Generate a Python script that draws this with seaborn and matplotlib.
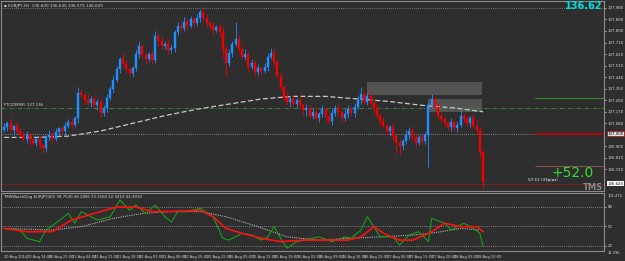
import matplotlib
matplotlib.use("Agg")
import matplotlib.pyplot as plt
import seaborn as sns
import pandas as pd

# EURJPY H1 candles (close prices, first open, wick sizes in pips)
first_open = 137.03
closes = [
    137.05, 137.08, 137.03, 137.06, 137.02, 137.00, 136.96, 136.99, 136.95, 136.93,
    136.96, 136.91, 136.89, 136.97, 136.99, 136.96, 137.01, 137.04, 137.02, 137.06,
    137.09, 137.07, 137.12, 137.32, 137.30, 137.26, 137.24, 137.27, 137.22, 137.25,
    137.16, 137.20, 137.28, 137.35, 137.42, 137.50, 137.58, 137.54, 137.50, 137.47,
    137.51, 137.62, 137.68, 137.61, 137.58, 137.62, 137.57, 137.76, 137.72, 137.68,
    137.70, 137.65, 137.67, 137.79, 137.84, 137.82, 137.87, 137.84, 137.89, 137.86,
    137.90, 137.95, 137.90, 137.86, 137.84, 137.81, 137.83, 137.79, 137.66, 137.55,
    137.63, 137.70, 137.74, 137.66, 137.60, 137.62, 137.52, 137.55, 137.48, 137.51,
    137.49, 137.52, 137.60, 137.63, 137.56, 137.45, 137.36, 137.28, 137.25, 137.27,
    137.23, 137.26, 137.22, 137.18, 137.20, 137.14, 137.17, 137.12, 137.15, 137.19,
    137.13, 137.10, 137.16, 137.20, 137.17, 137.12, 137.15, 137.19, 137.16, 137.21,
    137.26, 137.31, 137.25, 137.29, 137.24, 137.20, 137.14, 137.10, 137.06, 137.02,
    137.05, 136.98, 136.93, 136.90, 136.94, 136.99, 137.02, 136.97, 136.93, 136.97,
    136.94, 136.99, 137.22, 137.27, 137.21, 137.14, 137.11, 137.08, 137.05, 137.09,
    137.04, 137.07, 137.14, 137.11, 137.08, 137.12, 137.06, 137.03, 136.86, 136.62,
]
up_wick = [
    3, 2, 4, 1, 3, 2, 1, 3, 2, 2,
    2, 3, 1, 2, 4, 2, 3, 1, 2, 3,
    2, 3, 2, 4, 3, 2, 5, 2, 3, 2,
    3, 2, 3, 2, 4, 3, 2, 5, 3, 2,
    2, 3, 4, 2, 3, 2, 3, 4, 2, 3,
    2, 4, 3, 2, 3, 2, 4, 2, 3, 2,
    3, 2, 4, 3, 2, 3, 2, 3, 4, 2,
    3, 2, 13, 3, 2, 4, 2, 3, 2, 3,
    2, 3, 2, 4, 3, 2, 3, 2, 4, 2,
    3, 2, 4, 2, 3, 2, 3, 4, 2, 3,
    2, 4, 3, 2, 3, 2, 4, 3, 2, 3,
    3, 5, 2, 3, 4, 2, 3, 2, 3, 2,
    2, 3, 2, 3, 2, 4, 3, 2, 3, 2,
    3, 2, 3, 4, 2, 3, 2, 3, 2, 3,
    2, 3, 4, 2, 3, 2, 3, 5, 2, 1,
]
dn_wick = [
    2, 3, 2, 4, 2, 3, 2, 3, 4, 2,
    3, 2, 4, 3, 2, 3, 2, 3, 2, 3,
    2, 3, 2, 4, 2, 3, 2, 3, 2, 4,
    3, 2, 3, 2, 3, 2, 3, 2, 3, 2,
    3, 2, 3, 2, 4, 2, 3, 2, 4, 2,
    2, 3, 2, 3, 2, 3, 2, 3, 2, 3,
    2, 3, 2, 3, 2, 3, 2, 3, 6, 10,
    2, 3, 2, 3, 2, 3, 4, 2, 3, 2,
    3, 2, 3, 2, 3, 2, 3, 2, 3, 4,
    2, 3, 2, 3, 4, 2, 3, 2, 3, 2,
    3, 2, 3, 2, 3, 4, 2, 3, 2, 3,
    2, 3, 2, 3, 2, 3, 2, 3, 2, 3,
    4, 3, 8, 6, 3, 2, 3, 2, 3, 2,
    3, 2, 25, 3, 2, 3, 2, 3, 2, 3,
    2, 3, 2, 3, 2, 3, 2, 3, 4, 5,
]

# slow moving average (dashed)
ma_idx = [0, 10, 20, 30, 40, 50, 60, 70, 80, 90, 100, 110, 120, 130, 140, 149]
ma_vals = [136.97, 136.97, 136.98, 137.02, 137.08, 137.14, 137.19, 137.23,
           137.27, 137.29, 137.29, 137.27, 137.25, 137.22, 137.20, 137.17]

# price levels
top_level = 137.98
mid_level = 137.00
fib_level = 137.196
bid_level = 136.61
green_level = 137.28
red_level = 137.00
low_level = 136.75
zone1 = (113, 148.8, 137.30, 137.40)
zone2 = (132, 148.8, 137.165, 137.27)

# indicator panel
green_idx = [0, 5, 7, 11, 13, 16, 20, 22, 24, 29, 33, 36, 39, 41, 44, 47, 50, 52, 54, 57,
             61, 65, 68, 70, 74, 77, 80, 82, 84, 86, 88, 91, 93, 98, 102, 106, 108, 111,
             113, 115, 117, 121, 123, 126, 129, 132, 133, 137, 139, 143, 146, 148, 149]
green_vals = [47, 44.6, 32, 26.6, 44.6, 55, 70, 55, 72.8, 60, 65, 90.8, 75, 83, 70, 83,
              65, 57, 72.8, 72.8, 78, 65, 32, 29, 39.5, 37, 29, 34, 49.7, 32, 16.5, 26.6,
              29, 34, 26.6, 34, 32, 44.6, 65, 49.7, 34, 34, 21.5, 37, 42, 26.6, 62.6, 55,
              44.6, 55, 47, 39.5, 19]
red_idx = [0, 7, 15, 21, 28, 35, 41, 46, 52, 61, 65, 69, 74, 80, 86, 93, 101, 107, 111,
           115, 118, 123, 127, 131, 133, 137, 142, 147, 149]
red_vals = [47, 42, 42, 60, 70, 80, 80, 73, 73, 75, 65, 47, 39.5, 32, 26.6, 29, 29, 29,
            34, 49.7, 39.5, 29, 29, 37, 42, 55, 49.7, 49.7, 42]
gray_idx = [0, 15, 24, 34, 43, 52, 61, 69, 79, 88, 98, 108, 117, 128, 136, 142, 148]
gray_vals = [47, 44.6, 49.7, 62.6, 70, 73, 73, 65, 49.7, 34, 29, 32, 34, 37, 42, 47, 44.6]
ind_levels = [80, 50, 20]

price_ticks = [137.980, 137.890, 137.800, 137.710, 137.620, 137.530, 137.440, 137.350,
               137.260, 137.170, 137.080, 136.900, 136.810, 136.720]
tick_bars = [0, 7, 14, 21, 28, 35, 42, 49, 56, 63, 70, 77, 84, 91, 98, 105, 112, 119,
             126, 133, 140, 147]
tick_labels = ["20 Aug 2014", "20 Aug 14:00", "20 Aug 21:00", "21 Aug 04:00", "21 Aug 11:00",
               "21 Aug 18:00", "22 Aug 01:00", "22 Aug 08:00", "22 Aug 15:00", "22 Aug 22:00",
               "25 Aug 05:00", "25 Aug 12:00", "25 Aug 19:00", "26 Aug 02:00", "26 Aug 09:00",
               "26 Aug 16:00", "26 Aug 23:00", "27 Aug 06:00", "27 Aug 13:00", "27 Aug 20:00",
               "28 Aug 03:00", "28 Aug 10:00"]

BG = "#2e2e2e"
FG = "#d8d8d8"
BULL = "#1e8fff"
BEAR = "#f00000"

sns.set_style("dark", rc={"axes.facecolor": BG, "figure.facecolor": BG,
                          "axes.edgecolor": "#8a8a8a"})
plt.rcParams["font.family"] = ["DejaVu Sans"]

opens = [first_open] + closes[:-1]
df = pd.DataFrame({"bar": range(len(closes)), "open": opens, "close": closes,
                   "up": up_wick, "dn": dn_wick})
df["high"] = df[["open", "close"]].max(axis=1) + df["up"] * 0.01
df["low"] = df[["open", "close"]].min(axis=1) - df["dn"] * 0.01
df["color"] = [BULL if c >= o else BEAR for o, c in zip(df.open, df.close)]

W, H = 625, 261
fig = plt.figure(figsize=(W / 100, H / 100), dpi=100)
ax = fig.add_axes([0.002, (H - 191) / H, 604 / W - 0.002, 190 / H])
ax2 = fig.add_axes([0.002, (H - 251) / H, 604 / W - 0.002, 58 / H])

xmin, xmax = -0.9, 186.6
for a in (ax, ax2):
    a.set_xlim(xmin, xmax)
    for s in a.spines.values():
        s.set_color("#8a8a8a")
        s.set_linewidth(0.8)

# main price panel
ax.set_ylim(136.552, 138.034)
ax.axhline(top_level, color="#8a8a8a", lw=0.6, ls=(0, (1, 1.5)))
ax.axhline(mid_level, color="#9a9a9a", lw=0.6, ls=(0, (1, 1.5)))
ax.axhline(fib_level, color="#3c8c3c", lw=0.6, ls=(0, (5, 2, 1, 2)))
ax.axhline(bid_level, color="#8c1a1a", lw=0.6)
ax.hlines(green_level, 165, xmax, color="#2fbf2f", lw=0.8, ls=(0, (1, 0.6)))
ax.hlines(red_level, 165, xmax, color="#a01010", lw=1.6)
ax.hlines(low_level, 165, xmax, color="#8a5050", lw=0.8)
for x0, x1, y0, y1 in (zone1, zone2):
    ax.fill_between([x0, x1], y0, y1, color="#5a5a5a", alpha=0.85, lw=0, zorder=1)

sns.lineplot(x=ma_idx, y=ma_vals, ax=ax, color="#c8c8c8", lw=0.9,
             linestyle=(0, (4, 2)), zorder=2)
ax.vlines(df.bar, df.low, df.high, colors=df.color, lw=0.6, zorder=3)
ax.bar(df.bar, df.close - df.open, bottom=df.open, width=0.62, color=df.color,
       edgecolor=df.color, linewidth=0.3, zorder=4)

ax.yaxis.tick_right()
ax.set_yticks(price_ticks)
ax.set_yticklabels([f"{v:.3f}" for v in price_ticks])
ax.tick_params(axis="y", labelsize=2.8, colors=FG, length=1.5, pad=1, width=0.5)
ax.set_xticks([])
ax.set_xlabel("")
ax.set_ylabel("")

ax.text(0.004, 0.985, "\u25aa EURJPY,H1  136.600 136.635 136.575 136.620",
        transform=ax.transAxes, fontsize=3.0, color=FG, va="top", ha="left")
ax.text(0.003, fib_level + 0.012, "FTCZ(MMF) 137.196", fontsize=2.8, color=FG,
        va="bottom", ha="left")
ax.text(163, bid_level + 0.025, "57:11 (33pips)", fontsize=3.0, color="white",
        va="center", ha="left")
ax.text(0.998, 1.0, "136.62", transform=ax.transAxes, fontsize=7, color="#00e0e0",
        ha="right", va="top", fontweight="bold")
ax.text(183.5, 136.69, "+52.0", fontsize=10, color="#33dd33", ha="right", va="center")
ax.text(186.3, 136.578, "TMS", fontsize=6, color="#8a8a8a", ha="right", va="center",
        fontweight="bold")
ax.text(1.006, bid_level, "136.620", transform=ax.get_yaxis_transform(), fontsize=2.8,
        color="black", va="center", ha="left",
        bbox=dict(boxstyle="square,pad=0.15", fc="white", ec="none"))
ax.text(1.006, red_level, "137.000", transform=ax.get_yaxis_transform(), fontsize=2.8,
        color="black", va="center", ha="left",
        bbox=dict(boxstyle="square,pad=0.15", fc="#e0e0e0", ec="#a01010", lw=0.5))

# indicator panel
ax2.set_ylim(12.3, 101.5)
for lv in ind_levels:
    ax2.axhline(lv, color="#9a9a9a", lw=0.6, ls=(0, (1, 1.5)))
sns.lineplot(x=gray_idx, y=gray_vals, ax=ax2, color="#b0b0b0", lw=0.8,
             linestyle=(0, (1, 1)))
sns.lineplot(x=green_idx, y=green_vals, ax=ax2, color="#16a016", lw=0.8)
sns.lineplot(x=red_idx, y=red_vals, ax=ax2, color="#ff1010", lw=1.2)
ax2.yaxis.tick_right()
ax2.set_yticks(ind_levels)
ax2.set_yticklabels([str(v) for v in ind_levels])
ax2.tick_params(axis="y", labelsize=2.8, colors=FG, length=1.5, pad=1, width=0.5)
ax2.text(1.006, 0.99, "101.474", transform=ax2.transAxes, fontsize=2.6, color=FG,
         va="top", ha="left")
ax2.text(1.006, -0.03, "12.296", transform=ax2.transAxes, fontsize=2.6, color=FG,
         va="center", ha="left")
ax2.text(0.004, 0.96, "TMSWatchDog EURJPY(60) 38.7530 46.2066 33.2560 22.3410 44.3030",
         transform=ax2.transAxes, fontsize=2.8, color=FG, va="top", ha="left")
ax2.set_xticks(tick_bars)
ax2.set_xticklabels(tick_labels, ha="left")
ax2.tick_params(axis="x", labelsize=2.6, colors=FG, length=2, pad=0.8, width=0.5)
ax2.set_xlabel("")
ax2.set_ylabel("")

fig.savefig("out.png", dpi=100, facecolor=BG)
